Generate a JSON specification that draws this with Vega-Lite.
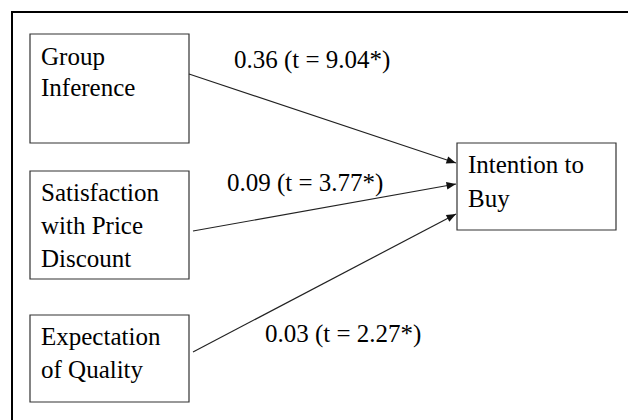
{
  "$schema": "https://vega.github.io/schema/vega-lite/v6.json",
  "width": 628,
  "height": 420,
  "padding": 0,
  "autosize": {"type": "none"},
  "background": "white",
  "config": {"view": {"stroke": null}},
  "datasets": {
    "frame": [{"x": 12, "y": 12, "x2": 640, "y2": 440}],
    "boxes": [
      {"name": "Group Inference", "x": 30, "y": 34, "x2": 189, "y2": 143},
      {"name": "Satisfaction with Price Discount", "x": 30, "y": 171, "x2": 189, "y2": 279},
      {"name": "Expectation of Quality", "x": 30, "y": 315, "x2": 189, "y2": 402},
      {"name": "Intention to Buy", "x": 457, "y": 143, "x2": 616, "y2": 230}
    ],
    "paths": [
      {"from": "Group Inference", "x": 189, "y": 74, "x2": 456, "y2": 163, "angle": 18.4},
      {"from": "Satisfaction with Price Discount", "x": 193, "y": 231, "x2": 456, "y2": 184, "angle": 349.9},
      {"from": "Expectation of Quality", "x": 193, "y": 352, "x2": 456, "y2": 214, "angle": 332.3}
    ],
    "lines": [
      {"label": "Group", "x": 41, "y": 57},
      {"label": "Inference", "x": 41, "y": 88},
      {"label": "Satisfaction", "x": 41, "y": 193},
      {"label": "with Price", "x": 41, "y": 226},
      {"label": "Discount", "x": 41, "y": 259},
      {"label": "Expectation", "x": 41, "y": 337},
      {"label": "of Quality", "x": 41, "y": 370},
      {"label": "Intention to", "x": 468, "y": 165},
      {"label": "Buy", "x": 468, "y": 199},
      {"label": "0.36 (t = 9.04*)", "x": 234, "y": 60},
      {"label": "0.09 (t = 3.77*)", "x": 227, "y": 183},
      {"label": "0.03 (t = 2.27*)", "x": 265, "y": 334}
    ]
  },
  "layer": [
    {
      "data": {"name": "frame"},
      "mark": {"type": "rect", "fill": "white", "stroke": "#000", "strokeWidth": 2},
      "encoding": {
        "x": {"field": "x", "type": "quantitative", "scale": {"domain": [0, 628], "nice": false, "zero": false}, "axis": null},
        "x2": {"field": "x2"},
        "y": {"field": "y", "type": "quantitative", "scale": {"domain": [0, 420], "nice": false, "zero": false, "reverse": true}, "axis": null},
        "y2": {"field": "y2"}
      }
    },
    {
      "data": {"name": "boxes"},
      "mark": {"type": "rect", "fill": "white", "stroke": "#333", "strokeWidth": 1.2},
      "encoding": {
        "x": {"field": "x", "type": "quantitative"},
        "x2": {"field": "x2"},
        "y": {"field": "y", "type": "quantitative"},
        "y2": {"field": "y2"}
      }
    },
    {
      "data": {"name": "paths"},
      "mark": {"type": "rule", "stroke": "#222", "strokeWidth": 1.2},
      "encoding": {
        "x": {"field": "x", "type": "quantitative"},
        "x2": {"field": "x2"},
        "y": {"field": "y", "type": "quantitative"},
        "y2": {"field": "y2"}
      }
    },
    {
      "data": {"name": "paths"},
      "mark": {"type": "point", "shape": "M0,0 L-2,-0.8 L-2,0.8 Z", "filled": true, "fill": "#111", "size": 90, "opacity": 1, "strokeWidth": 0},
      "encoding": {
        "x": {"field": "x2", "type": "quantitative"},
        "y": {"field": "y2", "type": "quantitative"},
        "angle": {"field": "angle", "type": "quantitative", "scale": null}
      }
    },
    {
      "data": {"name": "lines"},
      "mark": {"type": "text", "align": "left", "baseline": "middle", "font": "Liberation Serif", "fontSize": 25, "fill": "#000"},
      "encoding": {
        "x": {"field": "x", "type": "quantitative"},
        "y": {"field": "y", "type": "quantitative"},
        "text": {"field": "label"}
      }
    }
  ]
}
